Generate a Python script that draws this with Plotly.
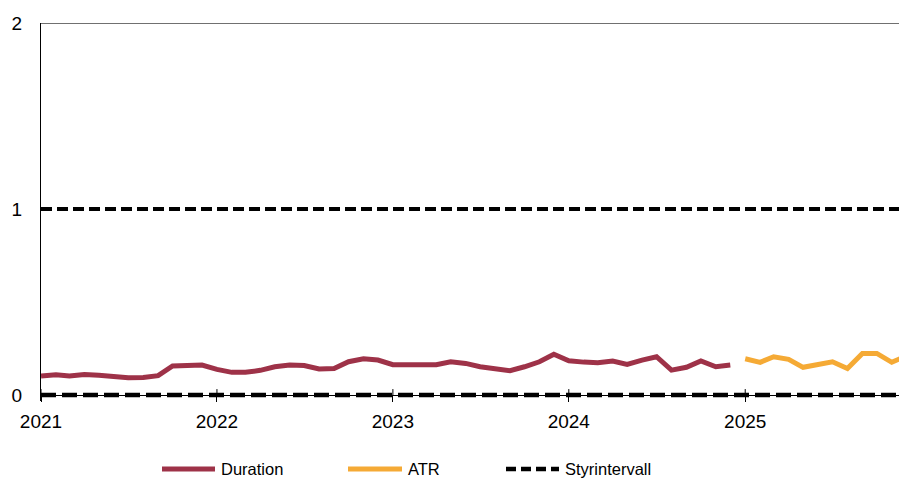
import pandas as pd
import plotly.graph_objects as go

# Monthly observations
duration_months = pd.date_range("2021-01-01", "2024-12-01", freq="MS")
duration_values = [
    0.102, 0.109, 0.102, 0.111, 0.106, 0.097, 0.093, 0.095, 0.104, 0.156, 0.156, 0.161,
    0.138, 0.122, 0.122, 0.133, 0.152, 0.161, 0.159, 0.140, 0.143, 0.179, 0.195, 0.188,
    0.163, 0.163, 0.163, 0.163, 0.179, 0.170, 0.152, 0.142, 0.131, 0.152, 0.179, 0.219,
    0.184, 0.177, 0.174, 0.183, 0.165, 0.188, 0.206, 0.134, 0.149, 0.183, 0.152, 0.161,
]
atr_months = pd.date_range("2025-01-01", "2025-12-01", freq="MS")
atr_values = [0.195, 0.176, 0.206, 0.192, 0.149, 0.167, 0.179, 0.143, 0.224, 0.224, 0.176, 0.210]

# Target interval bounds
band_dates = ["2021-01-01", "2025-12-31"]
band_lower = [0, 0]
band_upper = [1, 1]

year_ticks = ["2021-01-01", "2022-01-01", "2023-01-01", "2024-01-01", "2025-01-01"]
year_labels = ["2021", "2022", "2023", "2024", "2025"]

DUR_COLOR = "#9E3248"
ATR_COLOR = "#F5AA35"
FONT = "Liberation Sans, Arial, sans-serif"

fig = go.Figure()
fig.add_trace(go.Scatter(x=band_dates, y=band_upper, mode="lines",
                         line=dict(color="black", width=4, dash="11px,5px"),
                         hoverinfo="skip"))
fig.add_trace(go.Scatter(x=band_dates, y=band_lower, mode="lines",
                         line=dict(color="black", width=4.5, dash="15px,6px"),
                         hoverinfo="skip"))
fig.add_trace(go.Scatter(x=duration_months, y=duration_values, mode="lines", name="Duration",
                         line=dict(color=DUR_COLOR, width=5)))
fig.add_trace(go.Scatter(x=atr_months, y=atr_values, mode="lines", name="ATR",
                         line=dict(color=ATR_COLOR, width=5)))

Y_MIN = -0.032
y0_frac = (0 - Y_MIN) / (2 - Y_MIN)

shapes = []
# upper frame line
shapes.append(dict(type="line", xref="paper", yref="y", x0=0, x1=1, y0=2, y1=2,
                   line=dict(color="#404040", width=1.5)))
# inner half of the crossing year ticks
for t in year_ticks:
    shapes.append(dict(type="line", xref="x", yref="y", x0=t, x1=t, y0=0, y1=-Y_MIN,
                       line=dict(color="black", width=1)))

# Legend drawn below the plot
PLOT_W = 858.0
PLOT_H = 378.0
def px_x(px):
    return (px - 41) / PLOT_W
def px_y(py):
    return (401 - py) / PLOT_H

leg_y = px_y(469)
legend_items = [
    ("Duration", DUR_COLOR, None, 162, 215, 219),
    ("ATR", ATR_COLOR, None, 348, 402, 406),
    ("Styrintervall", "black", "10px,5px", 506, 559, 563),
]
annotations = []
for label, color, dash, a, b, tx in legend_items:
    shapes.append(dict(type="line", xref="paper", yref="paper",
                       x0=px_x(a), x1=px_x(b), y0=leg_y, y1=leg_y,
                       line=dict(color=color, width=5 if dash is None else 4.5,
                                 dash=dash if dash else "solid")))
    annotations.append(dict(text=label, xref="paper", yref="paper", x=px_x(tx), y=leg_y,
                            xanchor="left", yanchor="middle", showarrow=False,
                            font=dict(family=FONT, size=16.5, color="black")))

fig.update_layout(
    width=899, height=479,
    margin=dict(l=41, r=0, t=23, b=78),
    paper_bgcolor="white", plot_bgcolor="white",
    showlegend=False,
    font=dict(family=FONT, size=19, color="black"),
    shapes=shapes,
    annotations=annotations,
    xaxis=dict(
        type="date",
        range=["2021-01-01", "2025-11-16"],
        tickvals=year_ticks, ticktext=year_labels,
        ticks="outside", ticklen=6, tickwidth=1, tickcolor="black",
        showline=True, linecolor="black", linewidth=1,
        showgrid=False, zeroline=False,
        anchor="free", position=y0_frac,
        ticklabelstandoff=3,
        tickfont=dict(family=FONT, size=19, color="black"),
    ),
    yaxis=dict(
        range=[Y_MIN, 2],
        tickvals=[0, 1, 2], ticktext=["0", "1", "2"],
        ticks="", showline=True, linecolor="black", linewidth=1,
        showgrid=False, zeroline=False,
        ticklabelstandoff=14,
        tickfont=dict(family=FONT, size=19, color="black"),
    ),
)

fig.write_html("out.html")
